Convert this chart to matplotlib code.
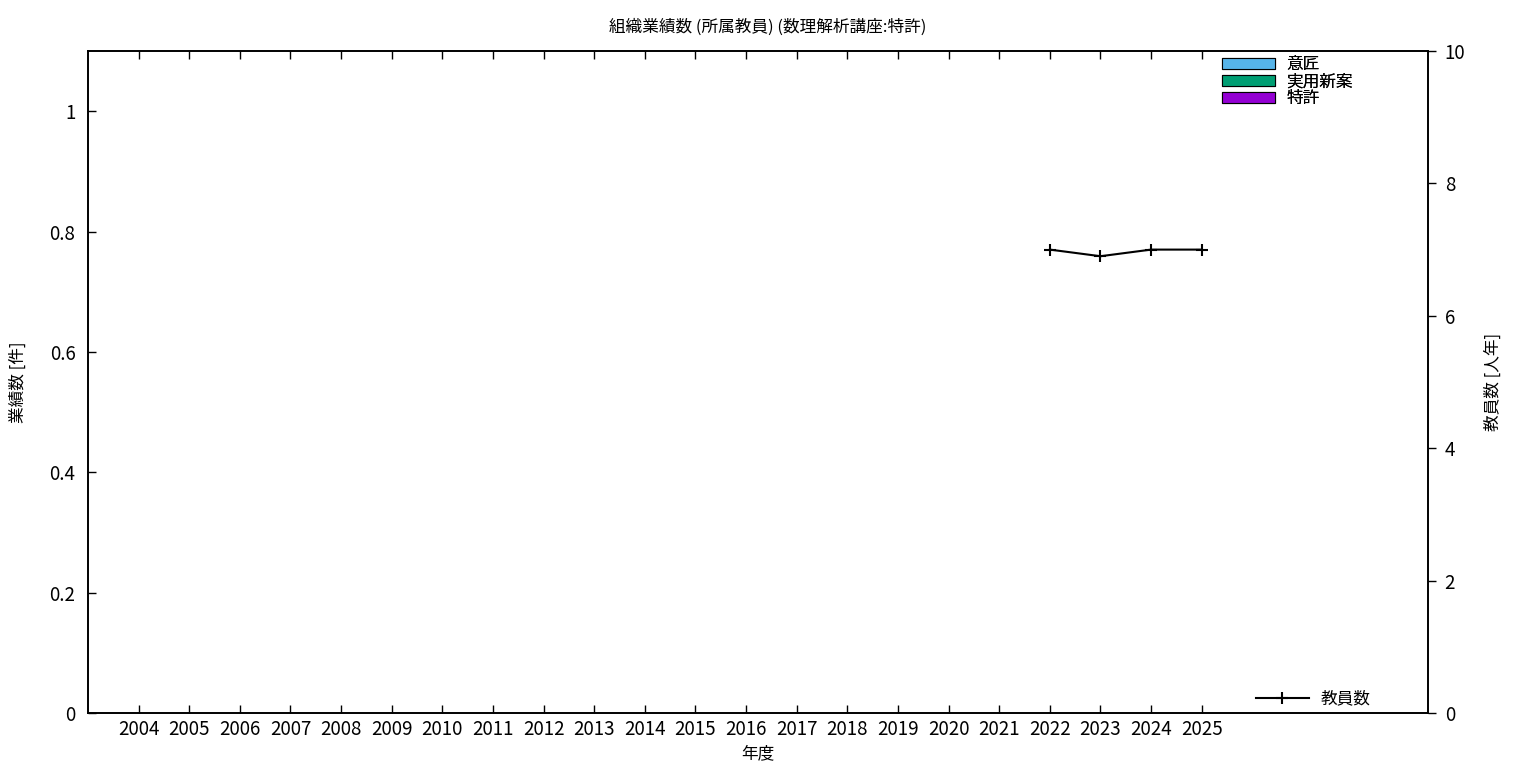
import matplotlib
matplotlib.use("Agg")
import matplotlib.pyplot as plt
from matplotlib.patches import Patch
from matplotlib.lines import Line2D
import numpy as np

plt.rcParams['font.family'] = ['Noto Sans CJK JP', 'DejaVu Sans']

years = [str(y) for y in range(2004, 2026)]
design = [0] * len(years)
utility = [0] * len(years)
patent = [0] * len(years)
staff_years = ['2022', '2023', '2024', '2025']
staff = [7.0, 6.9, 7.0, 7.0]

title = "組織業績数 (所属教員) (数理解析講座:特許)"
colors = {'意匠': '#56B4E9', '実用新案': '#009E73', '特許': '#9400D3'}

fig = plt.figure(figsize=(15.36, 7.68), dpi=100)
ax = fig.add_axes([88/1536, 1-713/768, (1428-88)/1536, (713-51)/768])
ax2 = ax.twinx()

x = np.arange(len(years))
w = 0.25
ax.bar(x - w, design, w, color=colors['意匠'], edgecolor='black', linewidth=0)
ax.bar(x, utility, w, color=colors['実用新案'], edgecolor='black', linewidth=0)
ax.bar(x + w, patent, w, color=colors['特許'], edgecolor='black', linewidth=0)

sx = [years.index(y) for y in staff_years]
ax2.plot(sx, staff, color='black', linewidth=1.5, marker='+', markersize=8, markeredgewidth=1.5)

ax.set_xlim(-1, 25.47)
ax.set_ylim(0, 1.1)
ax2.set_ylim(0, 10)
ax.set_xticks(x)
ax.set_xticklabels(years)
ax.set_yticks([0, 0.2, 0.4, 0.6, 0.8, 1.0])
ax.set_yticklabels(['0', '0.2', '0.4', '0.6', '0.8', '1'])
ax2.set_yticks([0, 2, 4, 6, 8, 10])

ax.tick_params(axis='x', direction='in', length=6, width=1, top=True, labelsize=13.5, pad=4)
ax.tick_params(axis='y', direction='in', length=6, width=1, labelsize=13.5, pad=9)
ax2.tick_params(axis='y', direction='out', length=6, width=1, labelsize=13.5, pad=6)
for a in (ax, ax2):
    for s in a.spines.values():
        s.set_linewidth(1.2)

ax.set_xlabel('年度', fontsize=12, labelpad=4)
ax.set_ylabel('業績数 [件]', fontsize=12, labelpad=16)
ax2.set_ylabel('教員数 [人年]', fontsize=12, labelpad=14)
fig.suptitle(title, fontsize=12, y=0.976)

handles = [Patch(facecolor=c, edgecolor='black', linewidth=0.8, label=k) for k, c in colors.items()]
leg1 = ax.legend(handles=handles, loc='upper right', bbox_to_anchor=(0.954, 1.012),
                 frameon=False, fontsize=12, handlelength=3.2, handleheight=0.55,
                 labelspacing=0.0, handletextpad=0.7, borderpad=0.3)
ax.add_artist(leg1)
line_h = [Line2D([], [], color='black', linewidth=1.5, marker='+', markersize=8,
                 markeredgewidth=1.5, label='教員数')]
ax2.legend(handles=line_h, loc='lower right', bbox_to_anchor=(0.967, -0.012),
           frameon=False, fontsize=12, handlelength=3.2, handletextpad=0.7, borderpad=0.3)

fig.savefig('out.png', dpi=100)
